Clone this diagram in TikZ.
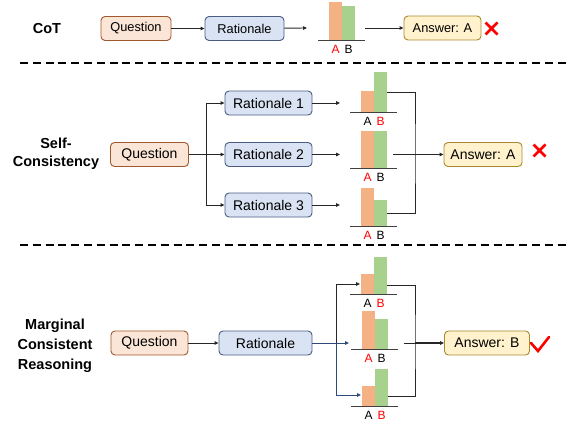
\documentclass[tikz,border=0pt]{standalone}
\usepackage{fontspec}
\setmainfont{Liberation Sans}
\usetikzlibrary{arrows.meta,positioning}

\definecolor{qfill}{HTML}{FBE5D6}
\definecolor{qdraw}{HTML}{A0582E}
\definecolor{rfill}{HTML}{DAE3F3}
\definecolor{rdraw}{HTML}{4A5D80}
\definecolor{afill}{HTML}{FFF2CC}
\definecolor{adraw}{HTML}{A8892E}
\definecolor{barA}{HTML}{F4B183}
\definecolor{barB}{HTML}{A9D18E}
\definecolor{navy}{HTML}{2F4A78}
\definecolor{mark}{HTML}{FF0000}

\tikzset{
  box/.style={draw, rounded corners=4pt, line width=0.9pt, minimum height=24pt,
    inner sep=0pt, font=\fontsize{14}{16}\selectfont},
  smallbox/.style={font=\fontsize{12.8}{15}\selectfont},
  question/.style={box, fill=qfill, draw=qdraw},
  rationale/.style={box, fill=rfill, draw=rdraw},
  answer/.style={box, fill=afill, draw=adraw},
  rowlabel/.style={align=center, font=\fontsize{14.5}{19}\selectfont\bfseries},
  barlabel/.style={inner sep=0pt, font=\fontsize{12}{14}\selectfont},
  baseln/.style={draw=black!75, line width=1pt},
  line/.style={draw=black!85, line width=0.9pt},
  link/.style={line, -{Triangle[length=4pt,width=3.5pt]}},
  sepline/.style={draw=black, line width=2pt, dash pattern=on 8pt off 4.8pt},
  markline/.style={draw=mark, line width=2.6pt},
}

% bars: name, left x, base y, top of A, top of B, colour of A, colour of B
\newcommand\votebars[7]{
  \fill[barA](#2,#4)rectangle(#2+13,#3);
  \fill[barB](#2+13,#5)rectangle(#2+26,#3);
  \draw[baseln](#2-11,#3)--(#2+36,#3);
  \node[barlabel,text=#6] (#1A) at(#2+6.5,#3+9) {A};
  \node[barlabel,text=#7] (#1B) at(#2+19.5,#3+9) {B};
}
\newcommand\crossmark[2]{\draw[markline](#1-6,#2-6)--(#1+6,#2+6) (#1-6,#2+6)--(#1+6,#2-6);}

\begin{document}
\begin{tikzpicture}[x=1pt,y=-1pt]
  \useasboundingbox (0,0) rectangle (575,426);

  % CoT
  \node[rowlabel] (cot) at(47,29) {CoT};
  \node[question,smallbox,minimum width=70pt] (q1) at(136,28.5) {Question};
  \node[rationale,smallbox,minimum width=79pt] (r1) at(244.5,28.5) {Rationale};
  \votebars{v1}{329}{40}{2}{6}{mark}{black}
  \node[answer,smallbox,minimum width=77pt] (a1) at(442.5,28) {Answer: A};
  \coordinate (v1in) at(307,28);
  \coordinate (v1out) at(365,28);
  \draw[link] (q1) -- (r1);
  \draw[link] (r1) -- (v1in);
  \draw[link] (v1out) -- (a1);
  \crossmark{491.5}{28.5}

  \draw[sepline] (20,63) -- (566,63);

  % Self-Consistency
  \node[rowlabel,font=\fontsize{14.5}{18}\selectfont\bfseries] (sc) at(56,154) {Self-\\Consistency};
  \node[question,minimum width=78pt] (q2) at(149.5,154.5) {Question};
  \node[rationale,minimum width=87pt] (r21) at(268.5,103) {Rationale 1};
  \node[rationale,minimum width=87pt] (r22) at(268.5,154.5) {Rationale 2};
  \node[rationale,minimum width=87pt] (r23) at(268.5,205) {Rationale 3};
  \coordinate (f2) at(206,154.5);
  \draw[line] (q2) -- (f2);
  \draw[link] (f2) |- (r21);
  \draw[link] (f2) -- (r22);
  \draw[link] (f2) |- (r23);

  \votebars{v21}{361}{112}{91}{72}{black}{mark}
  \votebars{v22}{361}{168}{131}{131}{mark}{black}
  \votebars{v23}{361}{226}{188}{200}{mark}{black}
  \coordinate (v21in) at(340,103);
  \coordinate (v22in) at(340,154.5);
  \coordinate (v23in) at(340,205);
  \draw[link] (r21) -- (v21in);
  \draw[link] (r22) -- (v22in);
  \draw[link] (r23) -- (v23in);

  \coordinate (v21out) at(387,92);
  \coordinate (v22out) at(393,154.5);
  \coordinate (v23out) at(387,213);
  \coordinate (m2) at(415,154.5);
  \node[answer,minimum width=78pt] (a2) at(483,154.5) {Answer: A};
  \draw[line] (v21out) -| (m2) |- (v23out);
  \draw[line] (v22out) -- (m2);
  \draw[link] (m2) -- (a2);
  \crossmark{539.5}{150.5}

  \draw[sepline] (20,245) -- (566,245);

  % Marginal Consistent Reasoning
  \node[rowlabel,font=\fontsize{14.5}{20}\selectfont\bfseries] (mcr) at(55,346) {Marginal\\Consistent\\Reasoning};
  \node[question,minimum width=77pt] (q3) at(149.5,343) {Question};
  \node[rationale,minimum width=93pt] (r3) at(265.5,343) {Rationale};
  \draw[link] (q3) -- (r3);

  \votebars{v31}{361}{294}{274}{257}{black}{mark}
  \votebars{v32}{362}{349}{311}{319}{mark}{black}
  \votebars{v33}{362}{406}{386}{369}{black}{mark}
  \coordinate (f3) at(336,343);
  \coordinate (v31in) at(360,284);
  \coordinate (v32in) at(349,343);
  \coordinate (v33in) at(361,395);
  \draw[line,draw=navy] (r3) -- (f3);
  \draw[link] (f3) |- (v31in);
  \draw[link,draw=navy] (f3) -- (v32in);
  \draw[link,draw=navy] (f3) |- (v33in);

  \coordinate (v31out) at(387,285);
  \coordinate (v32out) at(404,343);
  \coordinate (v33out) at(388,396);
  \coordinate (m3) at(415,343);
  \node[answer,minimum width=85pt] (a3) at(487,343) {Answer: B};
  \draw[line] (v31out) -| (m3) |- (v33out);
  \draw[line] (v32out) -- (m3);
  \draw[link,line width=1.4pt] (m3) -- (a3);
  \draw[markline,line cap=round] (531,343) -- (538,351) -- (549,337);
\end{tikzpicture}
\end{document}
